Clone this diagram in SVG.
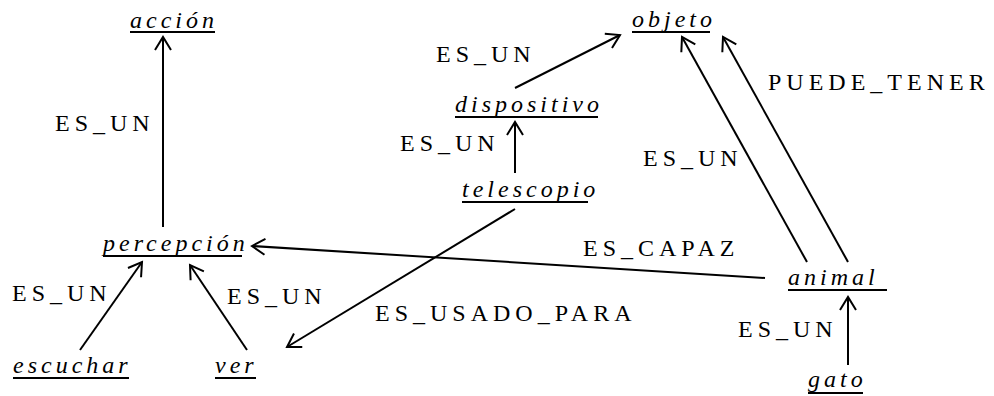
<svg xmlns="http://www.w3.org/2000/svg" width="994" height="396" viewBox="0 0 994 396">
<defs>
<marker id="arr" markerUnits="userSpaceOnUse" markerWidth="20" markerHeight="20" viewBox="-16 -10 20 20" refX="0" refY="0" orient="auto">
<path d="M -13 -8 L 0 0 L -13 8" fill="none" stroke="#000" stroke-width="2"/>
</marker>
<style>
.n{font-family:"Liberation Serif","Times New Roman",serif;font-style:italic;font-size:24px;letter-spacing:4px;fill:#000}
.l{font-family:"Liberation Serif","Times New Roman",serif;font-size:24px;letter-spacing:5px;fill:#000}
.u{stroke:#000;stroke-width:2}
.c line{stroke:#000;stroke-width:2;fill:none;marker-end:url(#arr)}
</style>
</defs>
<rect width="994" height="396" fill="#fff"/>
<g id="accion"><text class="n" x="130" y="28">acción</text><line class="u" x1="130" y1="32" x2="215" y2="32"/></g>
<g id="objeto"><text class="n" x="632" y="27">objeto</text><line class="u" x1="632" y1="32" x2="710" y2="32"/></g>
<g id="dispositivo"><text class="n" x="455" y="112">dispositivo</text><line class="u" x1="455" y1="117" x2="598" y2="117"/></g>
<g id="telescopio"><text class="n" x="462" y="197">telescopio</text><line class="u" x1="462" y1="202" x2="588" y2="202"/></g>
<g id="percepcion"><text class="n" x="103" y="251">percepción</text><line class="u" x1="103" y1="256" x2="242" y2="256"/></g>
<g id="animal"><text class="n" x="788" y="285">animal</text><line class="u" x1="788" y1="290" x2="887" y2="290"/></g>
<g id="escuchar"><text class="n" x="13" y="373">escuchar</text><line class="u" x1="13" y1="378" x2="129" y2="378"/></g>
<g id="ver"><text class="n" x="215" y="373">ver</text><line class="u" x1="215" y1="378" x2="256" y2="378"/></g>
<g id="gato"><text class="n" x="808" y="387">gato</text><line class="u" x1="808" y1="393" x2="863" y2="393"/></g>
<g id="connectors" class="c">
<line x1="163" y1="227" x2="163" y2="37"/>
<line x1="515" y1="88" x2="620" y2="35"/>
<line x1="515" y1="173" x2="515" y2="122"/>
<line x1="807" y1="262" x2="682" y2="37"/>
<line x1="848" y1="262" x2="723" y2="37"/>
<line x1="765" y1="278" x2="252" y2="246"/>
<line x1="80" y1="350" x2="142" y2="262"/>
<line x1="247" y1="350" x2="190" y2="265"/>
<line x1="515" y1="209" x2="287" y2="347"/>
<line x1="848" y1="365" x2="848" y2="297"/>
</g>
<g id="labels">
<text class="l" x="55" y="131">ES_UN</text>
<text class="l" x="436" y="62">ES_UN</text>
<text class="l" x="400" y="151">ES_UN</text>
<text class="l" x="768" y="90" letter-spacing="5.4">PUEDE_TENER</text>
<text class="l" x="643" y="166">ES_UN</text>
<text class="l" x="583" y="256" letter-spacing="4.4">ES_CAPAZ</text>
<text class="l" x="12" y="301">ES_UN</text>
<text class="l" x="227" y="304">ES_UN</text>
<text class="l" x="375" y="321" letter-spacing="4.5">ES_USADO_PARA</text>
<text class="l" x="738" y="337">ES_UN</text>
</g>
</svg>
